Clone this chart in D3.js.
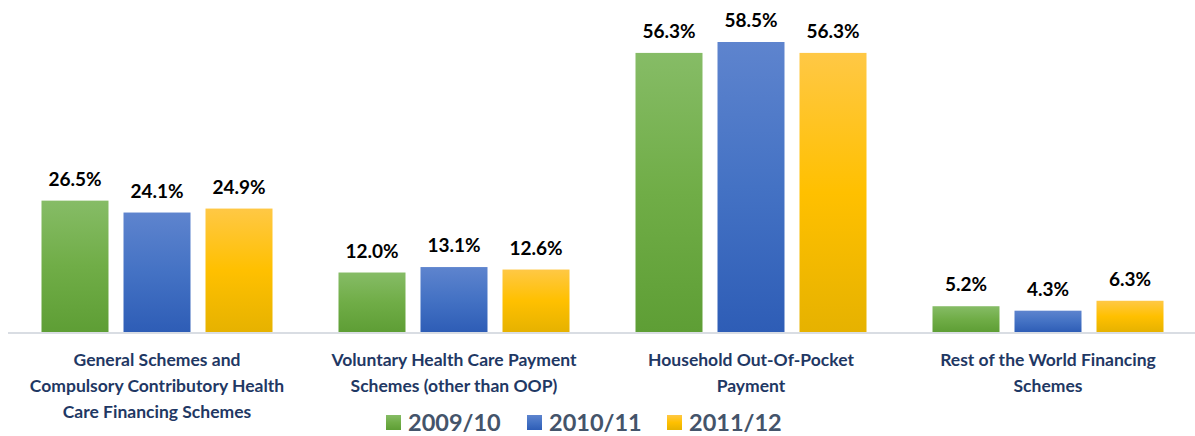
<!DOCTYPE html>
<html>
<head>
<meta charset="utf-8">
<script src="https://cdn.jsdelivr.net/npm/d3@7"></script>
<style>
  body { margin: 0; background: #fff; }
  svg { display: block; font-family: Lato, "Open Sans", sans-serif; }
</style>
</head>
<body>
<script>
// data
var categories = [
  ["General Schemes and", "Compulsory Contributory Health", "Care Financing Schemes"],
  ["Voluntary Health Care Payment", "Schemes (other than OOP)"],
  ["Household Out-Of-Pocket", "Payment"],
  ["Rest of the World Financing", "Schemes"]
];
var series = ["2009/10", "2010/11", "2011/12"];
var values2009 = [26.5, 12.0, 56.3, 5.2];
var values2010 = [24.1, 13.1, 58.5, 4.3];
var values2011 = [24.9, 12.6, 56.3, 6.3];

var colors = {
  "2009/10": ["#86BC66", "#70AD47", "#5E9E35"],
  "2010/11": ["#5E84CE", "#4472C4", "#2E5DB6"],
  "2011/12": ["#FFC845", "#FFC000", "#E6B200"]
};

var width = 1195, height = 436;
var baseline = 332;

var svg = d3.select("body").append("svg")
  .attr("width", width)
  .attr("height", height);

// gradients
var defs = svg.append("defs");
series.forEach(function(s, i) {
  var g = defs.append("linearGradient")
    .attr("id", "grad" + i)
    .attr("x1", 0).attr("y1", 0).attr("x2", 0).attr("y2", 1);
  g.append("stop").attr("offset", "0%").attr("stop-color", colors[s][0]);
  g.append("stop").attr("offset", "50%").attr("stop-color", colors[s][1]);
  g.append("stop").attr("offset", "100%").attr("stop-color", colors[s][2]);
});

var idx = d3.range(categories.length);
var x0 = d3.scaleBand()
  .domain(idx)
  .range([8.5, 1196.5])
  .paddingInner(0)
  .paddingOuter(0);

var x1 = d3.scaleBand()
  .domain(series)
  .range([33, x0.bandwidth() - 33])
  .paddingInner(0.183)
  .paddingOuter(0);

var y = d3.scaleLinear()
  .domain([0, 58.5])
  .range([baseline, 42]);

var table = idx.map(function(i) {
  return {
    cat: i,
    vals: [
      { s: series[0], v: values2009[i] },
      { s: series[1], v: values2010[i] },
      { s: series[2], v: values2011[i] }
    ]
  };
});

var groups = svg.selectAll("g.grp")
  .data(table)
  .enter()
  .append("g")
  .attr("class", "grp")
  .attr("transform", function(d) { return "translate(" + x0(d.cat) + ",0)"; });

groups.selectAll("rect")
  .data(function(d) { return d.vals; })
  .enter()
  .append("rect")
  .attr("x", function(d) { return x1(d.s); })
  .attr("y", function(d) { return y(d.v); })
  .attr("width", x1.bandwidth())
  .attr("height", function(d) { return baseline - y(d.v); })
  .attr("fill", function(d) { return "url(#grad" + series.indexOf(d.s) + ")"; });

groups.selectAll("text.val")
  .data(function(d) { return d.vals; })
  .enter()
  .append("text")
  .attr("class", "val")
  .attr("x", function(d) { return x1(d.s) + x1.bandwidth() / 2; })
  .attr("y", function(d) { return y(d.v) - 15; })
  .attr("text-anchor", "middle")
  .style("font-size", "19px")
  .style("font-weight", "bold")
  .attr("fill", "#000")
  .text(function(d) { return d.v.toFixed(1) + "%"; });

// axis line
svg.append("line")
  .attr("x1", 8).attr("x2", 1195)
  .attr("y1", baseline + 1).attr("y2", baseline + 1)
  .attr("stroke", "#D9DDE3")
  .attr("stroke-width", 2);

// category labels
groups.append("text")
  .attr("class", "cat")
  .attr("text-anchor", "middle")
  .attr("fill", "#1F3864")
  .style("font-size", "17.5px")
  .style("font-weight", "bold")
  .selectAll("tspan")
  .data(function(d) { return categories[d.cat]; })
  .enter()
  .append("tspan")
  .attr("x", x0.bandwidth() / 2)
  .attr("y", function(d, i) { return 366 + i * 26; })
  .text(function(d) { return d; });

// legend
var legendX = [386, 527, 667];
var legend = svg.selectAll("g.leg")
  .data(series)
  .enter()
  .append("g")
  .attr("class", "leg")
  .attr("transform", function(d, i) { return "translate(" + legendX[i] + ",415)"; });

legend.append("rect")
  .attr("width", 15)
  .attr("height", 15)
  .attr("fill", function(d, i) { return "url(#grad" + i + ")"; });

legend.append("text")
  .attr("x", 22)
  .attr("y", 16)
  .attr("fill", "#44546A")
  .style("font-size", "23.5px")
  .style("font-weight", "bold")
  .text(function(d) { return d; });
</script>
</body>
</html>
